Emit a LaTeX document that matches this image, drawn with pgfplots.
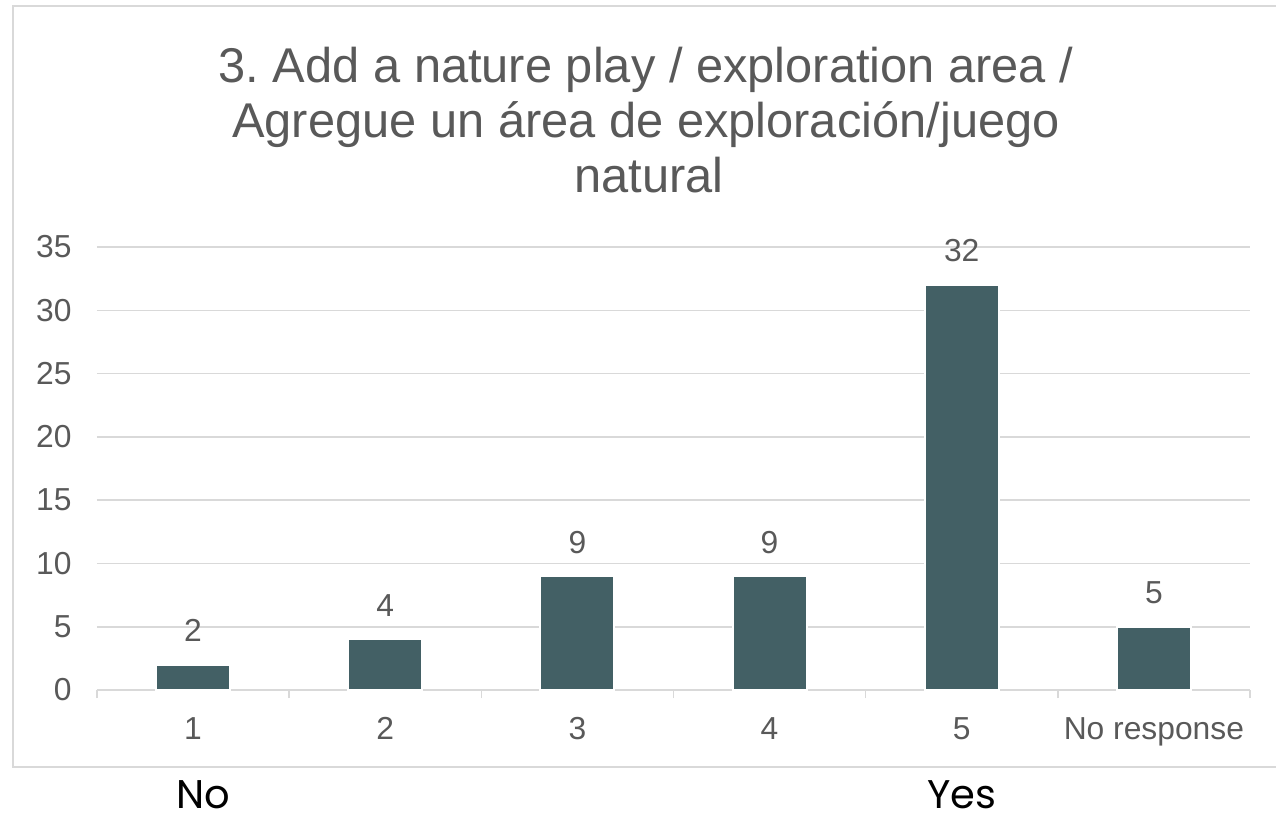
\documentclass[border=0pt]{standalone}
\usepackage{fontspec}
\setmainfont{Liberation Sans}
\newfontfamily\yesno{Poppins}
\usepackage{pgfplots}
\pgfplotsset{compat=1.18}
\definecolor{gridgray}{HTML}{D9D9D9}
\definecolor{txtgray}{HTML}{595959}
\definecolor{barcol}{HTML}{436065}
\begin{document}
\frenchspacing
\begin{tikzpicture}
\useasboundingbox (0,0) rectangle (638pt,-407.5pt);
\draw[gridgray, line width=0.9pt] (6.5pt,-3pt) rectangle (650pt,-383.5pt);
\begin{axis}[
  at={(48.5pt,-345pt)}, anchor=south west,
  scale only axis, width=576.5pt, height=221.5pt,
  xmin=-0.5, xmax=5.5, ymin=0, ymax=35,
  clip=false,
  axis line style={draw=none},
  xtick={0,1,2,3,4,5},
  xticklabels={1,2,3,4,5,No response},
  ytick={0,5,10,15,20,25,30,35},
  xtick pos=bottom, ytick pos=left,
  major tick length=0pt,
  ymajorgrids,
  grid style={gridgray, line width=0.8pt},
  tick style={draw=none},
  /pgf/number format/assume math mode=true,
  ticklabel style={font=\fontsize{15.9}{19}\selectfont, text=txtgray},
  yticklabel style={anchor=east, inner sep=0pt, xshift=-12.5pt},
  xticklabel style={anchor=north, inner sep=0pt, yshift=-13.5pt},
  extra x ticks={-0.5,0.5,1.5,2.5,3.5,4.5,5.5},
  extra x tick labels={},
  extra x tick style={grid=none, xtick align=outside, xtick pos=bottom, major tick length=4pt,
     tick style={draw=gridgray, line width=0.8pt}},
  ybar, bar width=37pt,
  nodes near coords,
  nodes near coords style={anchor=base, yshift=11.5pt, font=\fontsize{15.9}{19}\selectfont, text=txtgray},
]
\addplot[fill=barcol, draw=white, line width=1pt] coordinates {(0,2) (1,4) (2,9) (3,9) (4,32) (5,5)};
\end{axis}
\begin{scope}[every node/.style={text=txtgray, font=\fontsize{24.4}{29}\selectfont, anchor=base, inner sep=0pt}]
\node at (323pt,-41pt) {3. Add a nature play / exploration area /};
\node at (323pt,-68.5pt) {Agregue un área de exploración/juego};
\node at (324.5pt,-96pt) {natural};
\end{scope}
\node[anchor=base, inner sep=0pt, text depth=0pt, font=\yesno\fontsize{20}{24}\selectfont] at (101.5pt,-404pt) {No};
\node[anchor=base, inner sep=0pt, text depth=0pt, font=\yesno\fontsize{20}{24}\selectfont] at (481pt,-404pt) {Yes};
\end{tikzpicture}
\end{document}
